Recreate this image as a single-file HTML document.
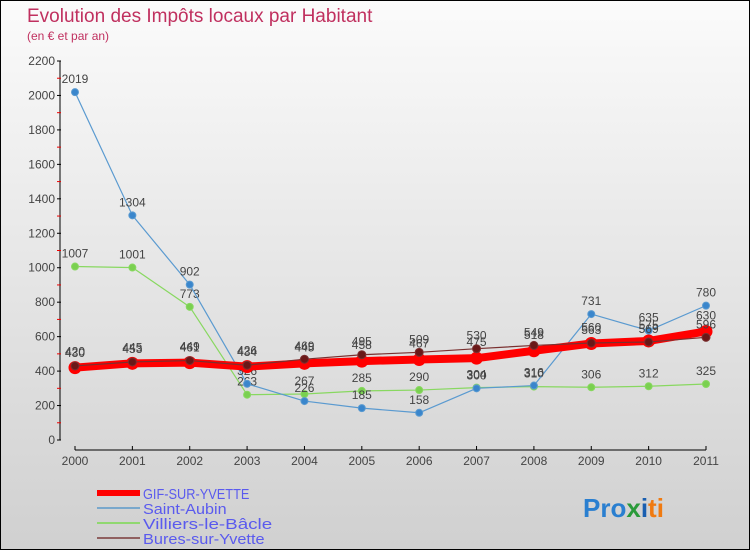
<!DOCTYPE html>
<html><head><meta charset="utf-8"><style>
body{margin:0;width:750px;height:550px;overflow:hidden}
svg{display:block;font-family:"Liberation Sans",sans-serif}
</style></head><body>
<svg width="750" height="550">
<defs><linearGradient id="bg" x1="0" y1="0" x2="0" y2="1"><stop offset="0" stop-color="#fbfbfb"/><stop offset="1" stop-color="#d0d0d0"/></linearGradient></defs>
<rect x="0.5" y="0.5" width="749" height="549" fill="url(#bg)" stroke="#000"/>
<text x="27" y="22" font-size="19" fill="#c0305f">Evolution des Impôts locaux par Habitant</text>
<text x="27" y="40" font-size="12" fill="#c0305f">(en € et par an)</text>
<g id="axes"></g>
<g id="series"></g>
<g id="legend"></g>
<text x="583" y="517" font-size="26" font-weight="bold"><tspan fill="#2a7fd0">Pro</tspan><tspan fill="#2a9a3a">x</tspan><tspan fill="#1a5fb0">i</tspan><tspan fill="#f07a10">ti</tspan></text>
</svg>
<script>
const years=["2000","2001","2002","2003","2004","2005","2006","2007","2008","2009","2010","2011"];
const yTicks=[0,200,400,600,800,1000,1200,1400,1600,1800,2000,2200];
const gif=[420,445,449,426,445,458,467,475,518,560,575,630];
const saintAubin=[2019,1304,902,326,226,185,158,300,316,731,635,780];
const villiers=[1007,1001,773,263,267,285,290,304,310,306,312,325];
const bures=[430,453,461,434,469,495,509,530,549,563,569,596];
const NS="http://www.w3.org/2000/svg";
const X=i=>75+i*(706-75)/11;
const Y=v=>440-v*(379/2200);
function mk(t,a,p){const e=document.createElementNS(NS,t);for(const k in a)e.setAttribute(k,a[k]);(p||document.getElementById('axes')).appendChild(e);return e;}
const ax=document.getElementById('axes');
let l=mk('line',{x1:60,y1:61,x2:60,y2:440,stroke:'#000'});


yTicks.forEach(v=>{
 mk('line',{x1:57,x2:61,y1:Y(v),y2:Y(v),stroke:'#000'});
 if(v<2200) mk('line',{x1:57,x2:61,y1:Y(v+100),y2:Y(v+100),stroke:'#e00'});
 const t=mk('text',{x:55,y:Y(v)+4,'font-size':12,'text-anchor':'end',fill:'#444'});
 t.textContent=v;
 
 
});
l=mk('line',{x1:75,y1:450,x2:706,y2:450,stroke:'#000'});


years.forEach((y,i)=>{
 mk('line',{x1:X(i),x2:X(i),y1:446,y2:450,stroke:'#000'});
 const t=mk('text',{x:X(i),y:465,'font-size':12,'text-anchor':'middle',fill:'#444'});
 t.textContent=y;
 
 
});
const sg=document.getElementById('series');
function series(data,name,color,w,r,dot,labOff){
 const g=mk('g',{},sg);
 
 
 mk('polyline',{points:data.map((v,i)=>X(i)+','+Y(v)).join(' '),fill:'none',stroke:color,'stroke-width':w,'stroke-linejoin':'round'},g);
 data.forEach((v,i)=>{
  const c=mk('circle',{cx:X(i),cy:Y(v),r:r,fill:dot,stroke:color,'stroke-width':1},g);
  
  
  const t=mk('text',{x:X(i),y:Y(v)-labOff,'font-size':12,'text-anchor':'middle',fill:'#444'},g);
  t.textContent=v;
  
  
 });
}
series(villiers,'villiers-le-bacle-series','#88d860',1.2,3.5,'#7ad050',9);
series(saintAubin,'saint-aubin-series','#5a9ad0',1.2,3.5,'#3a86cc',9);
series(gif,'gif-sur-yvette-series','#f00',8,6,'#f00',12);
series(bures,'bures-sur-yvette-series','#7a3030',1.2,4,'#6a1818',9);
const lg=document.getElementById('legend');
[['GIF-SUR-YVETTE','#f00',6],['Saint-Aubin','#7aa8cc',2],['Villiers-le-Bâcle','#90d870',2],['Bures-sur-Yvette','#906060',2]].forEach((d,i)=>{
 const y=493+i*15;
 const g=mk('g',{},lg);
 
 
 mk('line',{x1:97,x2:140,y1:y,y2:y,stroke:d[1],'stroke-width':d[2]},g);
 const t=mk('text',{x:143,y:y+6,'font-size':15,fill:'#5a5aee',textLength:d[0].length*7.6,lengthAdjust:'spacingAndGlyphs'},g);
 t.textContent=d[0];
});
</script>
</body></html>
